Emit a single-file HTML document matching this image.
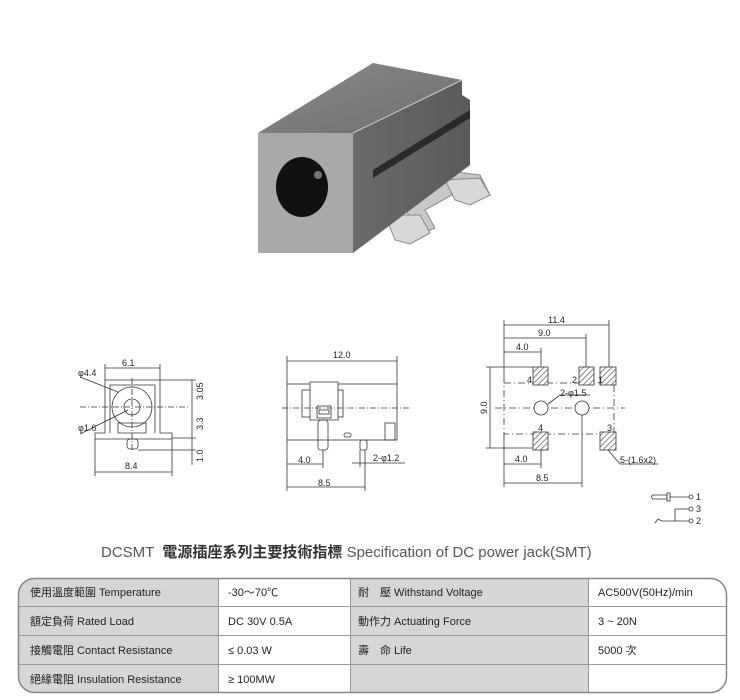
<!DOCTYPE html>
<html><head><meta charset="utf-8"><style>
body{margin:0;background:#fff;width:740px;height:700px;overflow:hidden;font-family:"Liberation Sans","Noto Sans CJK TC",sans-serif}
svg{position:absolute;left:0;top:0}
</style></head><body>
<svg width="740" height="700" viewBox="0 0 740 700" font-family="Liberation Sans, Noto Sans CJK TC, sans-serif">
<defs>
<pattern id="h" width="4" height="4" patternUnits="userSpaceOnUse" patternTransform="rotate(45)"><rect width="4" height="4" fill="#fff"/><line x1="0" y1="0" x2="0" y2="4" stroke="#555" stroke-width="1.4"/></pattern>
<linearGradient id="tp" x1="0" y1="0" x2="1" y2="1"><stop offset="0" stop-color="#8a8a8a"/><stop offset="1" stop-color="#6e6e6e"/></linearGradient>
<linearGradient id="sd" x1="0" y1="0" x2="1" y2="0"><stop offset="0" stop-color="#6a6a6a"/><stop offset="1" stop-color="#5a5a5a"/></linearGradient>
</defs>
<!-- product photo -->
<g>
<path d="M400 200 L420 235 L435 228 L425 210 L470 185 L490 195 L480 175 L440 170 L395 195Z" fill="#c8c8c8" stroke="#888" stroke-width="1"/>
<path d="M385 215 L395 240 L410 244 L430 233 L420 215Z" fill="#d8d8d8" stroke="#888"/>
<path d="M445 180 L455 200 L470 205 L490 195 L480 178Z" fill="#d8d8d8" stroke="#888"/>
<polygon points="353,133 462,80 462,95 470,100 470,165 353,253" fill="url(#sd)"/>
<polygon points="373,170 470,110 470,118 373,178" fill="#2a2a2a"/>
<polygon points="258,133 373,63 462,80 353,133" fill="url(#tp)"/>
<polygon points="258,133 353,133 353,253 258,253" fill="#a9a9a9"/>
<line x1="353" y1="133" x2="462" y2="80" stroke="#ccc" stroke-width="1"/>
<ellipse cx="302" cy="187" rx="26" ry="30" fill="#111"/>
<circle cx="318" cy="175" r="4" fill="#777"/>
</g>
<g stroke="#333" stroke-width="0.8" fill="none" font-size="9" >
<!-- left view -->
<path d="M95 433 L105 433 L105 380 L160 380 L160 433 L172 433 L172 439 L95 439Z" fill="#fff"/>
<path d="M110 433 L110 385 L155 385 L155 433"/>
<circle cx="132" cy="407" r="20"/>
<circle cx="132" cy="407" r="8"/>
<path d="M118 423 L146 423 L146 433 L118 433Z"/>
<rect x="127" y="439" width="11" height="10" rx="3"/>
<line x1="80" y1="407" x2="190" y2="407" stroke-dasharray="6,2,1,2"/>
<line x1="132" y1="378" x2="132" y2="452" stroke-dasharray="6,2,1,2"/>
<line x1="105" y1="368" x2="160" y2="368"/><line x1="105" y1="364" x2="105" y2="380"/><line x1="160" y1="364" x2="160" y2="380"/>
<line x1="95" y1="472" x2="172" y2="472"/><line x1="95" y1="439" x2="95" y2="476"/><line x1="172" y1="439" x2="172" y2="476"/>
<line x1="192" y1="380" x2="192" y2="465"/><line x1="160" y1="380" x2="196" y2="380"/><line x1="172" y1="438" x2="196" y2="438"/><line x1="138" y1="450" x2="196" y2="450"/>
<line x1="80" y1="377" x2="118" y2="392"/><line x1="80" y1="434" x2="128" y2="410"/>
<!-- middle view -->
<rect x="287" y="384" width="110" height="56" fill="#fff"/>
<rect x="302" y="390" width="41" height="27"/>
<path d="M310 382 L338 382 L338 420 L310 420Z" fill="#fff"/>
<rect x="317" y="406" width="14" height="12"/>
<rect x="319" y="410" width="10" height="4"/>
<rect x="318" y="420" width="10" height="30" rx="3"/>
<rect x="360" y="440" width="7" height="10" rx="2"/>
<rect x="385" y="423" width="10" height="17"/>
<rect x="344" y="433" width="7" height="4" rx="2"/>
<line x1="282" y1="408" x2="410" y2="408" stroke-dasharray="6,2,1,2"/>
<line x1="287" y1="361" x2="397" y2="361"/><line x1="287" y1="356" x2="287" y2="384"/><line x1="397" y1="356" x2="397" y2="384"/>
<line x1="287" y1="464" x2="323" y2="464"/><line x1="287" y1="440" x2="287" y2="491"/><line x1="323" y1="450" x2="323" y2="468"/>
<line x1="287" y1="487" x2="365" y2="487"/><line x1="365" y1="450" x2="365" y2="491"/>
<line x1="352" y1="463" x2="405" y2="463"/><line x1="360" y1="450" x2="360" y2="467"/>
<!-- right view -->
<rect x="504" y="383" width="110" height="51" stroke-dasharray="7,3,1,3"/>
<line x1="495" y1="408" x2="625" y2="408" stroke-dasharray="7,3,1,3"/>
<rect x="533" y="367" width="15" height="18" fill="url(#h)"/>
<rect x="579" y="367" width="15" height="18" fill="url(#h)"/>
<rect x="600" y="367" width="16" height="18" fill="url(#h)"/>
<rect x="533" y="432" width="15" height="18" fill="url(#h)"/>
<rect x="600" y="432" width="16" height="18" fill="url(#h)"/>
<circle cx="541" cy="408" r="7" fill="#fff"/><circle cx="582" cy="408" r="7" fill="#fff"/>
<line x1="504" y1="325" x2="609" y2="325"/><line x1="504" y1="320" x2="504" y2="383"/><line x1="609" y1="320" x2="609" y2="367"/>
<line x1="504" y1="338" x2="586" y2="338"/><line x1="586" y1="334" x2="586" y2="367"/>
<line x1="504" y1="352" x2="541" y2="352"/><line x1="541" y1="348" x2="541" y2="367"/>
<line x1="490" y1="367" x2="490" y2="448"/><line x1="486" y1="367" x2="533" y2="367"/><line x1="486" y1="448" x2="533" y2="448"/>
<line x1="504" y1="464" x2="541" y2="464"/><line x1="504" y1="434" x2="504" y2="487"/><line x1="541" y1="450" x2="541" y2="468"/>
<line x1="504" y1="483" x2="582" y2="483"/><line x1="582" y1="415" x2="582" y2="487"/>
<line x1="548" y1="404" x2="560" y2="395"/><line x1="560" y1="395" x2="590" y2="395"/>
<line x1="608" y1="450" x2="620" y2="464"/><line x1="620" y1="464" x2="658" y2="464"/>
<!-- schematic -->
<path d="M653 495 L667 495 L667 499 L653 499 Q650 497 653 495Z"/><rect x="667" y="493" width="3" height="8"/>
<line x1="670" y1="497" x2="689" y2="497"/><circle cx="691" cy="497" r="2"/>
<line x1="675" y1="509" x2="689" y2="509"/><line x1="675" y1="509" x2="675" y2="521"/><circle cx="691" cy="509" r="2"/>
<path d="M655 523 L658 519 L662 521 L689 521"/><circle cx="691" cy="521" r="2"/>
</g>
<g font-size="9" fill="#222">
<text x="122" y="366">6.1</text><text x="125" y="469">8.4</text>
<text x="78" y="376">φ4.4</text><text x="78" y="431">φ1.6</text>
<text transform="translate(203,400) rotate(-90)">3.05</text>
<text transform="translate(203,430) rotate(-90)">3.3</text>
<text transform="translate(203,462) rotate(-90)">1.0</text>
<text x="333" y="358">12.0</text><text x="298" y="463">4.0</text><text x="318" y="486">8.5</text><text x="373" y="461">2-φ1.2</text>
<text x="548" y="323">11.4</text><text x="538" y="336">9.0</text><text x="516" y="350">4.0</text>
<text transform="translate(487,414) rotate(-90)">9.0</text>
<text x="527" y="383">4</text><text x="572" y="383">2</text><text x="598" y="383">1</text>
<text x="560" y="396">2-φ1.5</text><text x="538" y="431">4</text><text x="607" y="431">3</text>
<text x="515" y="462">4.0</text><text x="536" y="481">8.5</text><text x="620" y="463">5-(1.6x2)</text>
<text x="696" y="500">1</text><text x="696" y="512">3</text><text x="696" y="524">2</text>
</g>
<text x="101" y="557" font-size="15" fill="#555">DCSMT <tspan font-weight="bold" fill="#333">&#160;電源插座系列主要技術指標</tspan> Specification of DC power jack(SMT)</text>
<!-- table -->
<clipPath id="c"><rect x="18" y="578" width="709" height="115" rx="16"/></clipPath>
<g clip-path="url(#c)">
<rect x="18" y="578" width="709" height="115" fill="#fff"/>
<rect x="18" y="578" width="200" height="115" fill="#d6d6d6"/>
<rect x="350" y="578" width="238" height="115" fill="#d6d6d6"/>
<g stroke="#999" stroke-width="1">
<line x1="18" y1="606.5" x2="727" y2="606.5"/><line x1="18" y1="635.5" x2="727" y2="635.5"/><line x1="18" y1="664.5" x2="727" y2="664.5"/>
<line x1="218.5" y1="578" x2="218.5" y2="693"/><line x1="350.5" y1="578" x2="350.5" y2="693"/><line x1="588.5" y1="578" x2="588.5" y2="693"/>
</g></g>
<rect x="18.5" y="578.5" width="708" height="114" rx="16" fill="none" stroke="#888" stroke-width="1.5"/>
<g font-size="11" fill="#222">
<text x="30" y="596">使用溫度範圍 Temperature</text><text x="228" y="596">-30～70℃</text><text x="358" y="596">耐　壓 Withstand Voltage</text><text x="598" y="596">AC500V(50Hz)/min</text>
<text x="30" y="625">額定負荷  Rated Load</text><text x="228" y="625">DC  30V  0.5A</text><text x="358" y="625">動作力  Actuating Force</text><text x="598" y="625">3 ~ 20N</text>
<text x="30" y="654">接觸電阻  Contact Resistance</text><text x="228" y="654">≤ 0.03 W</text><text x="358" y="654">壽　命  Life</text><text x="598" y="654">5000 次</text>
<text x="30" y="683">絕緣電阻  Insulation Resistance</text><text x="228" y="683">≥ 100MW</text>
</g>
</svg>
</body></html>
